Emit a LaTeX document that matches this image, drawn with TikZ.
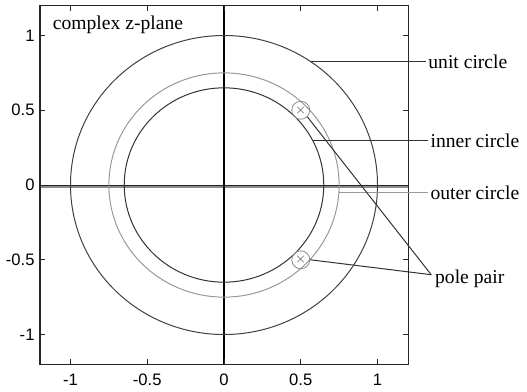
\documentclass[tikz,border=0pt]{standalone}
\usepackage{fontspec}
\setmainfont{Liberation Serif}
\newfontfamily\tickfont{Liberation Sans}
\begin{document}
\begin{tikzpicture}[x=76.75pt,y=74.75pt,
  lbl/.style={font=\fontsize{9.8}{11}\selectfont, inner sep=1pt, anchor=west},
  ticklbl/.style={font=\tickfont\fontsize{8.3}{10}\selectfont, inner sep=0pt},
  unitc/.style={draw=black!75, line width=0.5pt},
  innerc/.style={draw=black!80, line width=0.5pt},
  outerc/.style={draw=black!40, line width=0.5pt},
  leader/.style={draw=black!80, line width=0.5pt},
  polemark/.style={circle, draw=black!45, line width=0.4pt, minimum size=9pt, inner sep=0pt}]
\useasboundingbox (-1.4593,-1.3779) rectangle (1.9739,1.2375);
% axes lines
\draw[black!45, line width=1.3pt] (-1.2,-0.012) -- (1.2,-0.012);
\draw[black!85, line width=0.5pt] (-1.2,0) -- (1.2,0);
\draw[black, line width=0.6pt] (0,-1.2) -- (0,1.2);
% circles
\draw[unitc] (0,0) circle[x radius=1, y radius=1];
\draw[outerc] (0,0) circle[x radius=0.75, y radius=0.75];
\draw[innerc] (0,0) circle[x radius=0.65, y radius=0.65];
% frame
\draw[black!85, line width=0.7pt] (-1.2,-1.2) rectangle (1.2,1.2);
% ticks
\foreach \v in {-1,-0.5,0,0.5,1} {
  \draw[black!85, line width=0.5pt] (\v,-1.2) -- (\v,-1.167);
  \draw[black!85, line width=0.5pt] (\v,1.2) -- (\v,1.167);
  \draw[black!85, line width=0.5pt] (-1.2,\v) -- (-1.167,\v);
  \draw[black!85, line width=0.5pt] (1.2,\v) -- (1.167,\v);
}
\foreach \v/\t in {-1/-1,-0.5/-0.5,0/0,0.5/0.5,1/1} {
  \node[ticklbl, anchor=east] (yl\t) at (-1.232,\v) {\t};
  \node[ticklbl] (xl\t) at (\v,-1.304) {\t};
}
% title
\node[lbl] (title) at (-1.13,1.07) {complex z-plane};
% pole markers
\node[polemark] (pu) at (0.5,0.5) {};
\node[polemark] (pl) at (0.5,-0.5) {};
\node[font=\fontsize{6}{6}\selectfont, inner sep=0pt, text=black!70] (xu) at (0.5,0.5) {$\times$};
\node[font=\fontsize{6}{6}\selectfont, inner sep=0pt, text=black!70] (xl) at (0.5,-0.5) {$\times$};
% label leaders
\coordinate (cu) at (0.568,0.823);
\coordinate (ci) at (0.577,0.296);
\coordinate (co) at (0.748,-0.05);
\node[lbl] (lu) at (1.316,0.823) {unit circle};
\node[lbl] (li) at (1.33,0.296) {inner circle};
\node[lbl] (lo) at (1.33,-0.05) {outer circle};
\coordinate (tip) at (1.35,-0.6);
\node[lbl] (lp) at (1.36,-0.63) {pole pair};
\draw[leader] (cu) -- (lu.west);
\draw[leader] (ci) -- (li.west);
\draw[outerc] (co) -- (lo.west);
\draw[leader] (pu.south east) -- (tip);
\draw[leader] (pl.east) -- (tip);
\end{tikzpicture}
\end{document}
